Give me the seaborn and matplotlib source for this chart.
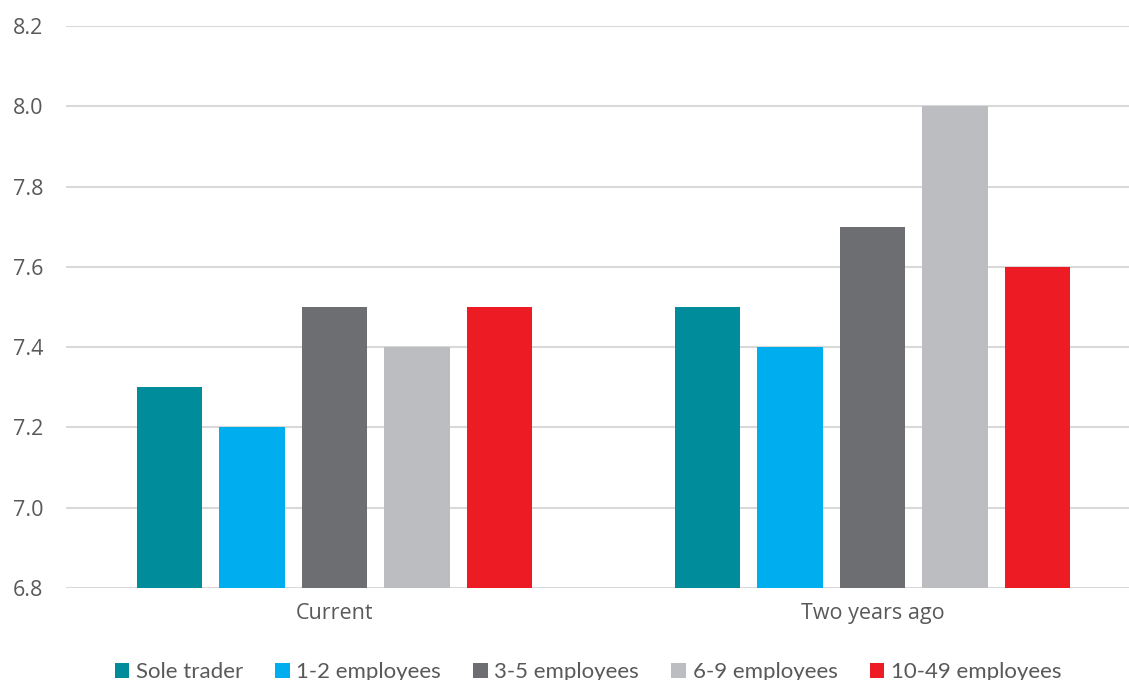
import matplotlib
matplotlib.use("Agg")
import matplotlib.pyplot as plt
import seaborn as sns
import pandas as pd

categories = ["Current", "Two years ago"]
series = ["Sole trader", "1-2 employees", "3-5 employees", "6-9 employees", "10-49 employees"]
sole_trader = [7.3, 7.5]
emp_1_2 = [7.2, 7.4]
emp_3_5 = [7.5, 7.7]
emp_6_9 = [7.4, 8.0]
emp_10_49 = [7.5, 7.6]
colors = ["#008C9A", "#00AEEF", "#6D6E71", "#BCBDC0", "#ED1C24"]
y_ticks = [6.8, 7.0, 7.2, 7.4, 7.6, 7.8, 8.0, 8.2]

values = [sole_trader, emp_1_2, emp_3_5, emp_6_9, emp_10_49]
rows = []
for s, vals in zip(series, values):
    for c, v in zip(categories, vals):
        rows.append({"category": c, "series": s, "value": v})
df = pd.DataFrame(rows)

sns.set_style("white")
plt.rcParams['font.family'] = ['Open Sans', 'DejaVu Sans']

fig = plt.figure(figsize=(11.29, 6.8), dpi=100)
ax = fig.add_axes([65.5 / 1129, 1 - 588 / 680, 1076 / 1129, (588 - 26) / 680])

sns.barplot(data=df, x="category", y="value", hue="series", hue_order=series,
            order=categories, palette=colors, width=0.767, gap=0.21,
            ax=ax, legend=True, linewidth=0, saturation=1)

ax.set_ylim(6.8, 8.2)
ax.set_xlim(-0.5, 1.5)
ax.set_yticks(y_ticks)
ax.set_yticklabels([f"{t:.1f}" for t in y_ticks])
ax.yaxis.grid(True, color="#D9D9D9", linewidth=1.5)
ax.set_axisbelow(True)
for sp in ax.spines.values():
    sp.set_visible(False)
ax.tick_params(axis="both", length=0, labelsize=15.5, colors="#595959")
ax.tick_params(axis="y", pad=16)
ax.tick_params(axis="x", pad=11)
ax.set_xlabel("")
ax.set_ylabel("")

handles, labels = ax.get_legend_handles_labels()
ax.get_legend().remove()
leg = fig.legend(handles, labels, loc="center", bbox_to_anchor=(588 / 1129, 1 - 672 / 680),
                 ncol=5, frameon=False, handlelength=0.65, handleheight=0.65,
                 handletextpad=0.3, columnspacing=1.45,
                 prop={"family": "Lato", "size": 16})
for t in leg.get_texts():
    t.set_color("#595959")

fig.savefig("out.png", dpi=100)
